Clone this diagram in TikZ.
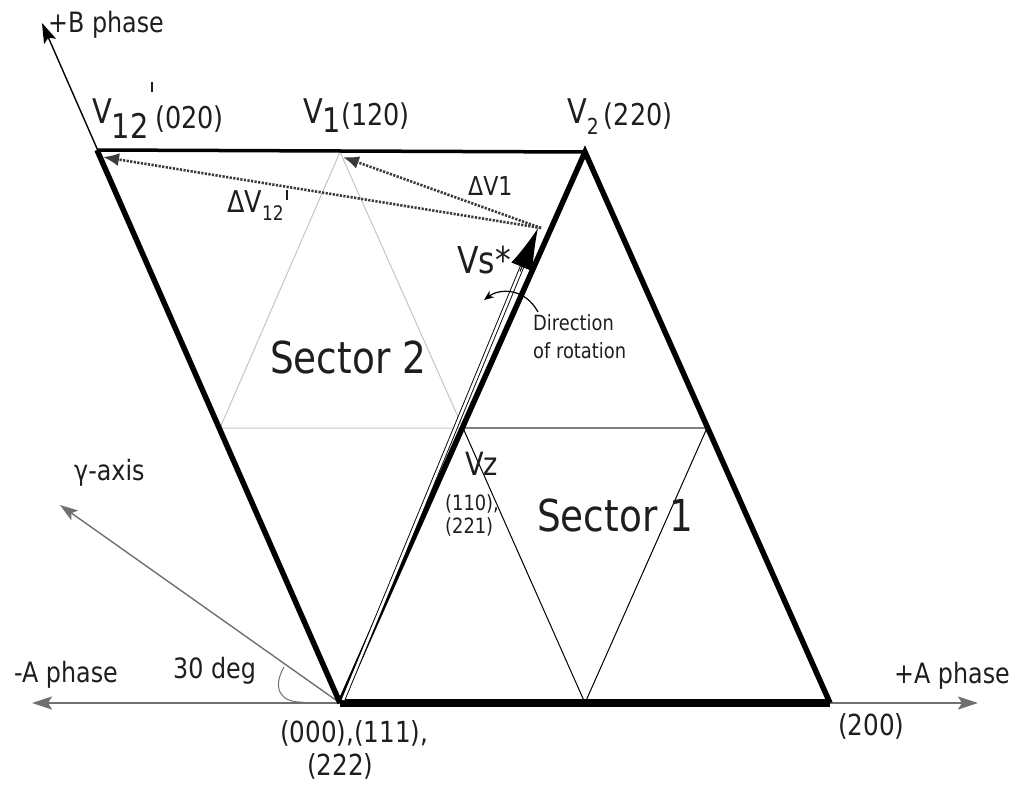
\documentclass[tikz,border=0pt]{standalone}
\usepackage{fontspec}
\setmainfont{DejaVu Sans}[FakeStretch=0.85]
\usetikzlibrary{arrows.meta,calc}
\definecolor{txt}{HTML}{1E1E1E}
\definecolor{axisgray}{HTML}{707070}
\definecolor{lightgray}{HTML}{C4C4C4}
\definecolor{midgray}{HTML}{808080}
\definecolor{dotgray}{HTML}{3A3A3A}
\newcommand{\fs}[1]{\fontsize{#1}{#1}\selectfont}
\newcommand{\tick}[1]{\hspace{2pt}\raisebox{#1}{\rule{2.4pt}{10pt}}\hspace{2pt}}
\begin{document}
\begin{tikzpicture}[x=1pt,y=-1pt,
  lbl/.style={text=txt, inner sep=0pt, anchor=base west},
  heavy/.style={line width=5.5pt, line join=miter, line cap=butt},
  axisline/.style={draw=axisgray, line width=2pt, -{Stealth[length=20pt,width=13pt,inset=4pt]}},
  thinblack/.style={draw=black, line width=1pt},
  dotarrow/.style={draw=dotgray, line width=2.6pt, dash pattern=on 2.2pt off 1.4pt, -{Latex[length=16pt,width=13pt]}},
]
\useasboundingbox (0,0) rectangle (1019,792);
% key points
\coordinate (O) at (340,703);
\coordinate (A) at (830,703);
\coordinate (V2) at (585,152);
\coordinate (V12) at (97,150);
\coordinate (V1) at (340,152);
\coordinate (ML) at (220,428);
\coordinate (MC) at (463,428);
\coordinate (MR) at (707,428);
\coordinate (MB) at (585,703);
\coordinate (S) at (541,228);
\coordinate (Aend) at (978,703);
\coordinate (Anegend) at (32,703);
\coordinate (Bend) at (42,23);
\coordinate (Gend) at (60,505);
\coordinate (Vtip) at (538,228);
\coordinate (Vstart) at (343,700);
\coordinate (D1tip) at (343,157);
\coordinate (D12tip) at (103,157);
\coordinate (rotA) at (538,312);
\coordinate (rotB) at (484,300);
\coordinate (arcA) at (284,667);
\coordinate (arcB) at (303,702);

% axes
\draw[axisline] (O) -- (Aend);
\draw[axisline] (O) -- (Anegend);
\draw[draw=black, line width=1.4pt, -{Stealth[length=20pt,width=13pt,inset=4pt]}] (O) -- (Bend);
\draw[draw=axisgray, line width=1.4pt, -{Stealth[length=18pt,width=12pt,inset=4pt]}] (O) -- (Gend);
% 30 deg arc
\draw[draw=axisgray, line width=1pt] (arcA) .. controls (272,688) and (280,703) .. (arcB);

% thin inner lines
\draw[draw=lightgray, line width=1pt] (ML) -- (V1) -- (MC) -- cycle;
\draw[draw=midgray, line width=1.5pt] (MC) -- (MR);
\draw[thinblack] (MC) -- (MB) -- (MR);

% heavy outline
\draw[line width=3.5pt] (V12) -- (V2);
\draw[heavy] (V12) -- (O);
\draw[heavy] (O) -- (V2) -- (A);
\draw[line width=7.5pt] (O) -- (A);

% dotted delta arrows
\draw[dotarrow] (S) -- (D1tip);
\draw[dotarrow] (S) -- (D12tip);

% Vs* vector
\draw[draw=black, double=white, double distance=2.6pt, line width=0.9pt] (Vstart) -- ($(Vtip)!30pt!(Vstart)$);
\draw[line width=1pt, -{Latex[length=42pt,width=23pt]}] ($(Vtip)!47pt!(Vstart)$) -- (Vtip);

% rotation arrow
\draw[line width=1.2pt, -{Stealth[length=10pt,width=8pt]}] (rotA) .. controls (525,288) and (500,288) .. (rotB);

% labels
\node[lbl] (tB) at (48,33) {\fs{28}+B phase};
\node[lbl, anchor=base east] (tAp) at (1010,683) {\fs{28}+A phase};
\node[lbl, anchor=base east] (tAn) at (118,682) {\fs{28}-A phase};
\node[lbl] (t30) at (173,678) {\fs{28}30 deg};
\node[lbl] (tG) at (74,480) {\fs{28}γ-axis};
\node[lbl] (tO1) at (280,742) {\fs{29}(000),(111),};
\node[lbl] (tO2) at (307,775) {\fs{29}(222)};
\node[lbl] (tA) at (838,735) {\fs{29}(200)};
\node[lbl] (tV12) at (92,123) {\fs{34}V\raisebox{-15pt}{12}\tick{31pt}\raisebox{-5pt}{\fs{30}(020)}};
\node[lbl] (tV1) at (303,123) {\fs{34}V\raisebox{-9pt}{1}\raisebox{-2pt}{\fs{30}(120)}};
\node[lbl] (tV2) at (567,123) {\fs{34}V\raisebox{-11pt}{\fs{22}2}\fs{30}\,\raisebox{-2pt}{(220)}};
\node[lbl] (tD1) at (468,195) {\fs{26}ΔV1};
\node[lbl] (tD12) at (227,212) {\fs{30}ΔV\raisebox{-8pt}{\fs{20}12}\tick{12pt}};
\node[lbl] (tVs) at (457,273) {\fs{37}Vs*};
\node[lbl] (tDir) at (533,330) {\fs{21}Direction};
\node[lbl] (tRot) at (533,358) {\fs{21}of rotation};
\node[lbl] (tS2) at (270,373) {\fs{44}Sector 2};
\node[lbl] (tS1) at (537,531) {\fs{44}Sector 1};
\node[lbl] (tVz) at (465,475) {\fs{32}Vz};
\node[lbl] (t110) at (445,510) {\fs{21}(110),};
\node[lbl] (t221) at (445,533) {\fs{21}(221)};
\end{tikzpicture}
\end{document}
